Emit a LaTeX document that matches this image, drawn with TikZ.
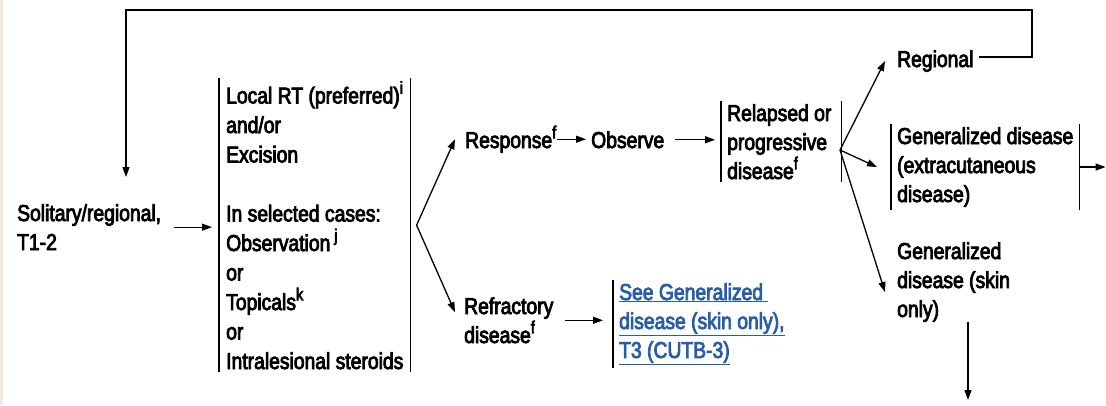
\documentclass[tikz,border=0pt]{standalone}
\usepackage{fontspec}
\setmainfont[FakeStretch=0.84,FakeBold=3.5]{Liberation Sans}
\usetikzlibrary{arrows.meta}

\definecolor{linkblue}{RGB}{41,94,166}
\definecolor{edgebeige}{RGB}{238,234,222}

% nota sobrescrita
\newcommand{\nota}[1]{\raisebox{0.42em}{\fontsize{17.5}{17.5}\selectfont #1}}

\tikzset{
  txt/.style={anchor=base west, inner sep=0pt, align=left,
    font=\fontsize{23}{29}\selectfont},
  barbox/.style={txt, inner xsep=6pt, inner ysep=3pt},
  conn/.style={line width=1.3pt},
}

\begin{document}
\begin{tikzpicture}[x=1pt,y=-1pt,>={Triangle[length=10pt,width=7pt]}]
  \useasboundingbox (0,0) rectangle (1106,405);
  \fill[edgebeige] (0,0) rectangle (2.5,405);

  % Texto das caixas (posicionado pela linha de base da ultima linha)
  \node[txt] (sol) at (17,250) {Solitary/regional,\\T1-2};
  \node[barbox, inner xsep=7pt, font=\fontsize{23}{29.5}\selectfont] (tx) at (219,369)
    {Local RT (preferred)\nota{i}\\and/or\\Excision\\[29.5pt]
     In selected cases:\\Observation\,\nota{j}\\or\\Topicals\nota{k}\\or\\
     Intralesional steroids};
  \node[txt] (resp) at (465,148) {Response\nota{f}};
  \node[txt] (obs) at (591,148) {Observe};
  \node[txt] (refr) at (464,343) {Refractory\\disease\nota{f}};
  \node[barbox, text=linkblue] (link) at (613,358)
    {\underline{See Generalized\ }\\\underline{disease (skin only),}\\\underline{T3 (CUTB-3)}};
  \node[barbox] (rel) at (721,179) {Relapsed or\\progressive\\disease\nota{f}};
  \node[txt] (reg) at (897,67) {Regional};
  \node[barbox] (ext) at (891,202) {Generalized disease\\(extracutaneous\\disease)};
  \node[txt] (skin) at (897,317) {Generalized\\disease (skin\\only)};

  % Barras laterais
  \draw[conn] (tx.north west) -- (tx.south west) (tx.north east) -- (tx.south east);
  \draw[conn] (rel.north west) -- (rel.south west)
    ([xshift=4pt]rel.north east) -- ([xshift=4pt]rel.south east);
  \draw[conn] (ext.north west) -- (ext.south west) (ext.north east) -- (ext.south east);
  \draw[conn] (link.north west) -- (link.south west);

  % Pontos auxiliares
  \coordinate (fk1) at ([xshift=6pt]tx.east);
  \coordinate (fk2) at (840,150);
  \coordinate (back) at (126,177);
  \coordinate (extout) at ([xshift=26pt]ext.east);
  \coordinate (skinout) at (968,400);

  % Setas
  \draw[conn,->,shorten <=13pt,shorten >=7pt] (sol.east) -- (sol.east -| tx.west);
  \draw[conn,->] (fk1) -- ([xshift=-10pt]resp.west);
  \draw[conn,->] (fk1) -- ([shift={(-9,15)}]refr.north west);
  \draw[conn,->,shorten <=1pt,shorten >=5pt] (resp.east) -- (resp.east -| obs.west);
  \draw[conn,->,shorten <=11pt,shorten >=6pt] (obs.east) -- (obs.east -| rel.west);
  \draw[conn,->,shorten <=11pt,shorten >=10pt] (refr.east) -- (refr.east -| link.west);
  \draw[conn,->] (fk2) -- ([xshift=-12pt]reg.west);
  \draw[conn,->] (fk2) -- ([xshift=-14pt]ext.west);
  \draw[conn,->] (fk2) -- ([shift={(-12,10)}]skin.west);
  \draw[conn,->] (ext.east) -- (extout);
  \draw[conn,->] (skinout |- skin.south) -- (skinout);

  % Retorno para o topo
  \draw[conn,->] ([xshift=5pt,yshift=4pt]reg.east) -| (1032,10) -| (back);
\end{tikzpicture}
\end{document}
